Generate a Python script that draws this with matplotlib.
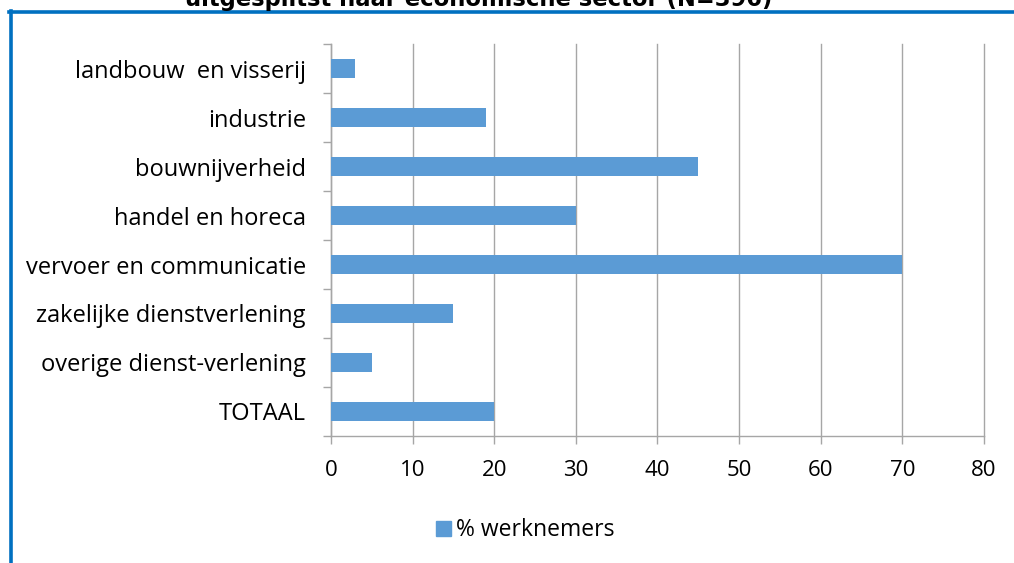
import matplotlib.pyplot as plt
import matplotlib as mpl
from matplotlib.lines import Line2D
from matplotlib.patches import Patch
import numpy as np

mpl.rcParams['font.family'] = ['Open Sans', 'DejaVu Sans']

# data
sectors = ['landbouw  en visserij', 'industrie', 'bouwnijverheid', 'handel en horeca',
           'vervoer en communicatie', 'zakelijke dienstverlening',
           'overige dienst-verlening', 'TOTAAL']
werknemers = [3, 19, 45, 30, 70, 15, 5, 20]
xticks = [0, 10, 20, 30, 40, 50, 60, 70, 80]

bar_color = '#5B9BD5'
grid_color = '#A6A6A6'
border_color = '#0070C0'

fig = plt.figure(figsize=(10.14, 5.63), dpi=100)
ax = fig.add_axes([0.3264, 0.2256, 0.644, 0.6962])

y = np.arange(len(sectors))
ax.barh(y, werknemers, height=0.4, color=bar_color, zorder=3)

ax.set_xlim(0, 80)
ax.set_ylim(len(sectors) - 0.5, -0.5)
ax.set_xticks(xticks)
ax.set_xticklabels([str(t) for t in xticks], fontsize=16)
ax.set_yticks(y)
ax.set_yticklabels(sectors, fontsize=17)
ax.set_yticks(np.arange(-0.5, len(sectors)), minor=True)
ax.tick_params(axis='y', which='major', length=0, pad=18)
ax.tick_params(axis='y', which='minor', length=6, color=grid_color, width=1)
ax.tick_params(axis='x', length=6, color=grid_color, width=1, pad=11)
ax.grid(axis='x', color=grid_color, linewidth=1, zorder=0)
for gl in ax.get_xgridlines():
    gl.set_clip_on(False)

for s in ['top', 'right']:
    ax.spines[s].set_visible(False)
for s in ['left', 'bottom']:
    ax.spines[s].set_color(grid_color)
    ax.spines[s].set_linewidth(1)

# legend
fig.legend(handles=[Patch(color=bar_color, label='% werknemers')],
           loc='center', bbox_to_anchor=(0.518, 0.058), frameon=False,
           fontsize=16.5, handlelength=0.65, handleheight=0.65, handletextpad=0.25)

# cut-off title and blue frame
fig.text(0.472, 0.989, 'uitgesplitst naar economische sector (N=396)',
         ha='center', va='baseline', fontsize=16.3, fontweight='bold',
         family='DejaVu Sans')
fig.add_artist(Line2D([0.009, 1.0], [0.978, 0.978], color=border_color, linewidth=2.6))
fig.add_artist(Line2D([0.0105, 0.0105], [0.0, 0.98], color=border_color, linewidth=2.6))

plt.savefig('out.png', dpi=100)
